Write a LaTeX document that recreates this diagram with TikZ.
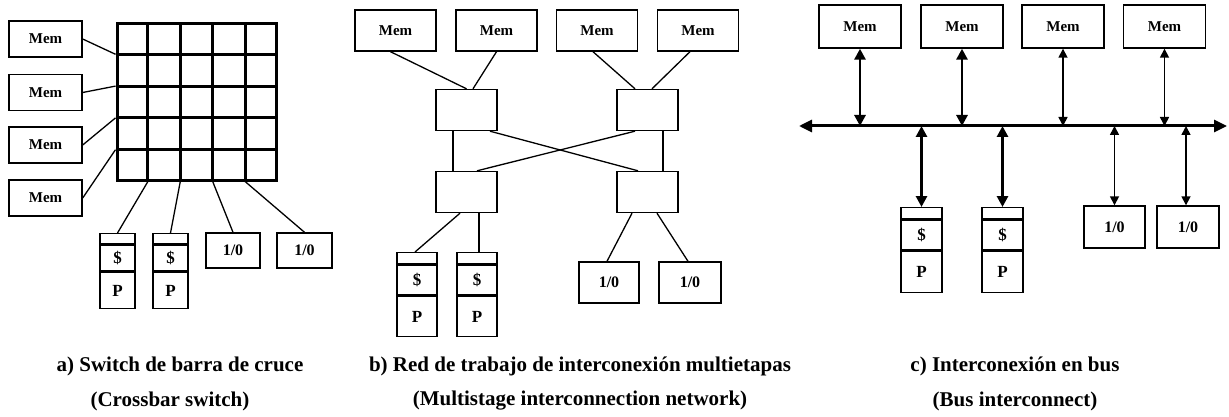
\documentclass[tikz,border=0pt]{standalone}
\usepackage{fontspec}
\setmainfont{Liberation Serif}
\usetikzlibrary{arrows.meta,calc}
\begin{document}
\begin{tikzpicture}[x=1pt,y=-1pt,
  box/.style={draw,line width=1.4pt,inner sep=0pt,font=\fontsize{15}{15}\selectfont\bfseries},
  memA/.style={box,minimum width=73pt,minimum height=36pt},
  memB/.style={box,minimum width=81pt,minimum height=41pt},
  memC/.style={box,minimum width=82pt,minimum height=43pt},
  sw/.style={box,minimum width=61pt,minimum height=41pt},
  io/.style={box,font=\fontsize{16}{16}\selectfont\bfseries},
  cell/.style={box,anchor=north,font=\fontsize{17}{17}\selectfont\bfseries},
  conn/.style={line width=1.3pt},
  grid line/.style={line width=3pt},
  thickarr/.style={line width=2.8pt,{Triangle[length=11pt,width=11pt]}-{Triangle[length=11pt,width=11pt]}},
  thinarr/.style={line width=1.6pt,{Triangle[length=9pt,width=9pt]}-{Triangle[length=9pt,width=9pt]}},
  captext/.style={font=\fontsize{21}{21}\selectfont\bfseries,inner sep=0pt}
]
\useasboundingbox (0,0) rectangle (1229,417);

% ---------------- a) crossbar ----------------
\node[memA] (am1) at (45.5,39) {Mem};
\node[memA] (am2) at (45.5,92.5) {Mem};
\node[memA] (am3) at (45.5,145) {Mem};
\node[memA] (am4) at (45.5,198) {Mem};
\node[draw,line width=3pt,inner sep=0pt,minimum width=159pt,minimum height=156pt] (xbar) at (196.5,102) {};
\foreach \i in {1,...,4}{
  \draw[grid line] ($(xbar.north west)!\i/5!(xbar.north east)$) -- ($(xbar.south west)!\i/5!(xbar.south east)$);
  \draw[grid line] ($(xbar.north west)!\i/5!(xbar.south west)$) -- ($(xbar.north east)!\i/5!(xbar.south east)$);
  \coordinate (xr\i) at ($(xbar.north west)!\i/5!(xbar.south west)$);
  \coordinate (xc\i) at ($(xbar.south west)!\i/5!(xbar.south east)$);
}
% caches + processors
\node[cell,minimum width=35pt,minimum height=10pt] (ac1) at (117.5,233) {};
\node[cell,minimum width=35pt,minimum height=26pt] (ad1) at (ac1.south) {\$};
\node[cell,minimum width=35pt,minimum height=36pt] (ap1) at (ad1.south) {P};
\node[cell,minimum width=35pt,minimum height=10pt] (ac2) at (170.5,233) {};
\node[cell,minimum width=35pt,minimum height=26pt] (ad2) at (ac2.south) {\$};
\node[cell,minimum width=35pt,minimum height=36pt] (ap2) at (ad2.south) {P};
\node[io,minimum width=54pt,minimum height=35pt] (aio1) at (233,250.5) {1/0};
\node[io,minimum width=55pt,minimum height=35pt] (aio2) at (304.5,250.5) {1/0};
\draw[conn] (am1.east) -- (xr1);
\draw[conn] (am2.east) -- (xr2);
\draw[conn] (am3.east) -- (xr3);
\draw[conn] (am4.east) -- (xr4);
\draw[conn] (xc1) -- (ac1.north);
\draw[conn] (xc2) -- (ac2.north);
\draw[conn] (xc3) -- (aio1.north);
\draw[conn] (xc4) -- (aio2.north);

% ---------------- b) multistage ----------------
\node[memB] (bm1) at (395.5,30.5) {Mem};
\node[memB] (bm2) at (496.5,30.5) {Mem};
\node[memB] (bm3) at (597,30.5) {Mem};
\node[memB] (bm4) at (698,30.5) {Mem};
\node[sw] (s1) at (466.5,110) {};
\node[sw] (s2) at (647.5,110) {};
\node[sw] (s3) at (466.5,192) {};
\node[sw] (s4) at (647.5,192) {};
\node[cell,minimum width=40pt,minimum height=11pt] (bc1) at (417,252) {};
\node[cell,minimum width=40pt,minimum height=30pt] (bd1) at (bc1.south) {\$};
\node[cell,minimum width=40pt,minimum height=40pt] (bp1) at (bd1.south) {P};
\node[cell,minimum width=40pt,minimum height=11pt] (bc2) at (477,252) {};
\node[cell,minimum width=40pt,minimum height=30pt] (bd2) at (bc2.south) {\$};
\node[cell,minimum width=40pt,minimum height=40pt] (bp2) at (bd2.south) {P};
\node[io,minimum width=60pt,minimum height=41pt] (bio1) at (609,282.5) {1/0};
\node[io,minimum width=62pt,minimum height=41pt] (bio2) at (690,282.5) {1/0};
\draw[conn] ($(bm1.south)+(-5,0)$) -- (s1.north);
\draw[conn] (bm2.south) -- ($(s1.north)+(6.5,0)$);
\draw[conn] ($(bm3.south)+(-4,0)$) -- ($(s2.north)+(-12.5,0)$);
\draw[conn] ($(bm4.south)+(-8,0)$) -- ($(s2.north)+(4.5,0)$);
\draw[conn] ($(s1.south)+(-13.5,0)$) -- ($(s3.north)+(-13.5,0)$);
\draw[conn] ($(s2.south)+(15.5,0)$) -- ($(s4.north)+(15.5,0)$);
\draw[conn] ($(s1.south)+(23.5,0)$) -- ($(s4.north)+(-9.5,0)$);
\draw[conn] ($(s2.south)+(-12.5,0)$) -- ($(s3.north)+(10.5,0)$);
\draw[conn] ($(s3.south)+(-6.5,0)$) -- ($(bc1.north)+(-2,0)$);
\draw[conn] ($(s3.south)+(12.5,0)$) -- ($(bc2.north)+(2,0)$);
\draw[conn] ($(s4.south)+(-15.5,0)$) -- ($(bio1.north)+(-2,0)$);
\draw[conn] ($(s4.south)+(9.5,0)$) -- ($(bio2.north)+(-2,0)$);

% ---------------- c) bus ----------------
\node[memC] (cm1) at (860,26.5) {Mem};
\node[memC] (cm2) at (962,26.5) {Mem};
\node[memC] (cm3) at (1063,26.5) {Mem};
\node[memC] (cm4) at (1164.5,26.5) {Mem};
\node[cell,minimum width=41pt,minimum height=11pt] (cc1) at (921.5,207) {};
\node[cell,minimum width=41pt,minimum height=30pt] (cd1) at (cc1.south) {\$};
\node[cell,minimum width=41pt,minimum height=41pt] (cp1) at (cd1.south) {P};
\node[cell,minimum width=41pt,minimum height=11pt] (cc2) at (1002.5,207) {};
\node[cell,minimum width=41pt,minimum height=30pt] (cd2) at (cc2.south) {\$};
\node[cell,minimum width=41pt,minimum height=41pt] (cp2) at (cd2.south) {P};
\node[io,minimum width=61pt,minimum height=42pt] (cio1) at (1114.5,227) {1/0};
\node[io,minimum width=62pt,minimum height=42pt] (cio2) at (1188,227) {1/0};
\coordinate (busL) at (799,126);
\coordinate (busR) at (1227,126);
\draw[line width=3pt,{Triangle[length=13pt,width=12pt]}-{Triangle[length=13pt,width=12pt]}] (busL) -- (busR);
\draw[thickarr] (cm1.south) -- (cm1.south |- busL);
\draw[thickarr] (cm2.south) -- (cm2.south |- busL);
\draw[thinarr] (cm3.south) -- (cm3.south |- busL);
\draw[thinarr] (cm4.south) -- (cm4.south |- busL);
\draw[thickarr] (cc1.north |- busL) -- (cc1.north);
\draw[thickarr] (cc2.north |- busL) -- (cc2.north);
\draw[thinarr] (cio1.north |- busL) -- (cio1.north);
\coordinate (cio2t) at ($(cio2.north)+(-2,0)$);
\draw[thinarr] (cio2t |- busL) -- (cio2t);

% ---------------- captions ----------------
\node[captext] (capa1) at (180,366) {a) Switch de barra de cruce};
\node[captext] (capa2) at (170,401) {(Crossbar switch)};
\node[captext] (capb1) at (580,366) {b) Red de trabajo de interconexión multietapas};
\node[captext] (capb2) at (580,401) {(Multistage interconnection network)};
\node[captext] (capc1) at (1015,366) {c) Interconexión en bus};
\node[captext] (capc2) at (1015,401) {(Bus interconnect)};
\end{tikzpicture}
\end{document}
